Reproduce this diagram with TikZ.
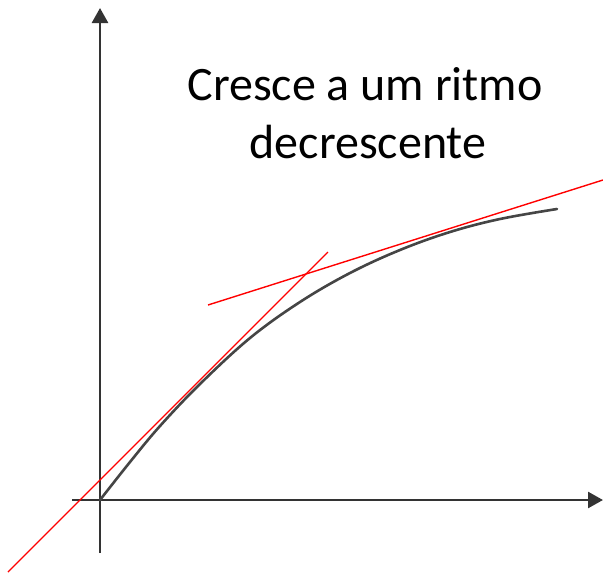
\documentclass[tikz,border=0pt]{standalone}
\usepackage{fontspec}
\setmainfont{Carlito}
\usetikzlibrary{arrows.meta}
\definecolor{axisgray}{HTML}{333333}
\definecolor{curvegray}{HTML}{454545}
\tikzset{
  axisline/.style={draw=axisgray, line width=2.6pt, -{Triangle[length=15pt,width=16pt]}},
  curveline/.style={draw=curvegray, line width=2.6pt, line cap=round},
  tangentline/.style={draw=red, line width=1.4pt},
  label/.style={font=\fontsize{48}{58}\selectfont, anchor=base, inner sep=0pt}
}
\begin{document}
\begin{tikzpicture}[x=1pt,y=-1pt]
\useasboundingbox (0,0) rectangle (603,573);
% axes
\coordinate (ybot) at (100,553);
\coordinate (ytop) at (100,8);
\coordinate (xleft) at (72,500);
\coordinate (xright) at (603,500);
\draw[axisline] (ybot) -- (ytop);
\draw[axisline] (xleft) -- (xright);
% curve
\draw[curveline] plot[smooth, tension=0.6] coordinates {(100,500) (130,462) (160,426) (200,384) (250,338) (300,302) (350,273) (400,250) (450,232) (500,219) (557,209)};
% tangents
\coordinate (t1a) at (8,572);
\coordinate (t1b) at (328,252);
\coordinate (t2a) at (208,305);
\coordinate (t2b) at (603,180);
\draw[tangentline] (t1a) -- (t1b);
\draw[tangentline] (t2a) -- (t2b);
% text
\node[label] (l1) at (365,100) {Cresce a um ritmo};
\node[label] (l2) at (368,158) {decrescente};
\end{tikzpicture}
\end{document}
